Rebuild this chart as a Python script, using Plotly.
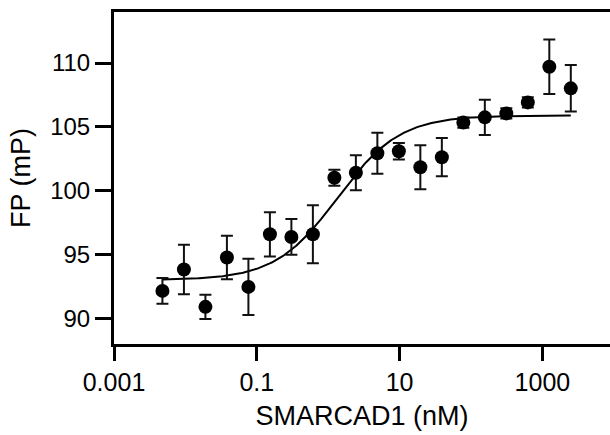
import numpy as np
import plotly.graph_objects as go

# SMARCAD1 concentrations (nM), 2-fold dilution series from 2500 nM
conc_nM = [2500 / 2 ** k for k in range(19, -1, -1)]
fp_mean = [92.16, 93.83, 90.91, 94.77, 92.47, 96.59, 96.38, 96.59, 101.02, 101.41,
           102.94, 103.09, 101.84, 102.63, 105.34, 105.75, 106.06, 106.92, 109.71, 108.02]
fp_err = [1.00, 1.94, 0.95, 1.70, 2.20, 1.73, 1.40, 2.27, 0.62, 1.37,
          1.60, 0.65, 1.72, 1.50, 0.40, 1.38, 0.40, 0.40, 2.13, 1.82]

# Fitted sigmoidal dose-response parameters
fit_bottom = 93.0
fit_top = 105.9
fit_log_ec50 = 0.13
fit_hill = 1.0

x_tick_vals = [0.001, 0.1, 10, 1000]
x_tick_text = ["0.001", "0.1", "10", "1000"]
y_tick_vals = [90, 95, 100, 105, 110]

xfit = np.logspace(np.log10(conc_nM[0]), np.log10(conc_nM[-1]), 300)
yfit = fit_bottom + (fit_top - fit_bottom) / (1 + 10 ** (fit_hill * (fit_log_ec50 - np.log10(xfit))))

font_family = "Liberation Sans, Arial, sans-serif"

fig = go.Figure()
fig.add_trace(go.Scatter(
    x=xfit, y=yfit, mode="lines",
    line=dict(color="black", width=2),
    hoverinfo="skip", showlegend=False,
))
fig.add_trace(go.Scatter(
    x=conc_nM, y=fp_mean, mode="markers",
    marker=dict(color="black", size=14),
    error_y=dict(type="data", array=fp_err, visible=True, color="#111111", thickness=2, width=6),
    showlegend=False,
))

fig.update_layout(
    template="none",
    width=610, height=435,
    margin=dict(l=114, r=0, t=12, b=91, pad=0),
    paper_bgcolor="white", plot_bgcolor="white",
    font=dict(family=font_family, size=24, color="black"),
    xaxis=dict(
        type="log", range=[-3, 3.947], automargin=False,
        tickvals=x_tick_vals, ticktext=x_tick_text,
        ticks="outside", ticklen=14, tickwidth=3, tickcolor="black",
        showline=True, linewidth=3, linecolor="black", mirror=True,
        showgrid=False, zeroline=False,
        tickfont=dict(size=25, color="black"),
        title=dict(text="SMARCAD1 (nM)", font=dict(size=27, color="black"), standoff=12),
    ),
    yaxis=dict(
        range=[88, 114], automargin=False,
        tickvals=y_tick_vals,
        ticks="outside", ticklen=16, tickwidth=3, tickcolor="black",
        showline=True, linewidth=3, linecolor="black",
        showgrid=False, zeroline=False,
        tickfont=dict(size=24, color="black"),
        title=dict(text="FP (mP)", font=dict(size=27, color="black"), standoff=12),
    ),
)

fig.write_html(
    "out.html",
    config={"displayModeBar": False},
    post_script="document.body.style.margin='0';document.body.style.overflow='hidden';",
)
